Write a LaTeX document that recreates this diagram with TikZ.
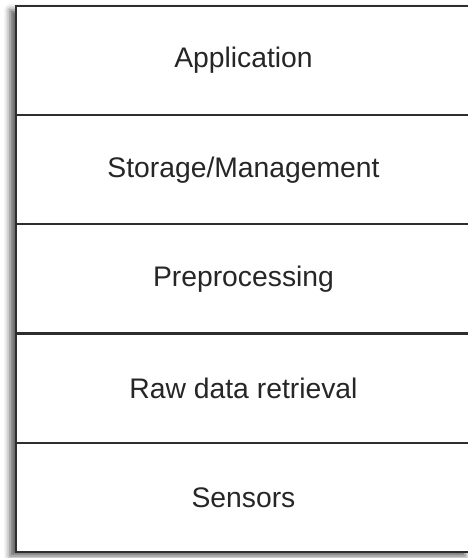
\documentclass[tikz,border=0pt]{standalone}
\usepackage{fontspec}
\setmainfont{Liberation Sans}
\usetikzlibrary{shadows.blur}
\begin{document}
\begin{tikzpicture}[x=1pt,y=1pt,
  layer/.style={draw=black!82, line width=2.2pt, fill=white, rectangle,
    minimum width=455pt, minimum height=109.2pt, inner sep=0pt,
    font=\fontsize{28.3}{33}\selectfont, text=black!85},
  frame/.style={draw=black!82, line width=2.2pt, fill=white,
    blur shadow={shadow xshift=-6pt, shadow yshift=-4pt,
      shadow blur radius=6pt, shadow opacity=65}}]
  \useasboundingbox (0,0) rectangle (467,558);
  % outer frame with soft shadow
  \node[frame, rectangle, minimum width=455pt, minimum height=546pt,
    inner sep=0pt] (stack) at (243.5,279) {};
  % the five layers, top to bottom
  \node[layer] (app)  at (243.5,497.4) {Application};
  \node[layer] (stor) at (243.5,388.2) {Storage/Management};
  \node[layer] (pre)  at (243.5,279.0) {Preprocessing};
  \node[layer] (raw)  at (243.5,169.8) {Raw data retrieval};
  \node[layer] (sens) at (243.5,60.6)  {Sensors};
\end{tikzpicture}
\end{document}
